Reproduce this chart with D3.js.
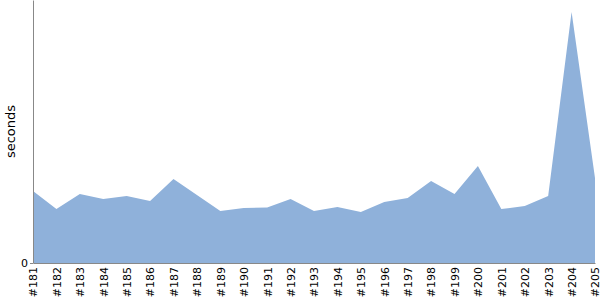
<!DOCTYPE html>
<html>
<head>
<meta charset="utf-8">
<script src="https://cdn.jsdelivr.net/npm/d3@7"></script>
<style>
  body { margin: 0; background: #fff; }
  text { font-family: "DejaVu Sans", sans-serif; }
</style>
</head>
<body>
<svg width="600" height="300"></svg>
<script>
// builds and their durations
const builds = ['#181','#182','#183','#184','#185','#186','#187','#188','#189','#190',
  '#191','#192','#193','#194','#195','#196','#197','#198','#199','#200',
  '#201','#202','#203','#204','#205'];
const seconds = [72, 54, 69, 64, 67, 62, 84, 68, 52, 55,
  55.5, 64, 52, 56, 51, 61, 65, 82, 69, 97,
  54, 57, 67, 251, 85];
const yTicks = [0];

const margin = {top: 0, right: 5, bottom: 37, left: 33};
const svg = d3.select('svg');
const w = 600 - margin.left - margin.right;
const h = 300 - margin.top - margin.bottom;

const g = svg.append('g').attr('transform', `translate(${margin.left},${margin.top})`);

const x = d3.scalePoint().domain(builds).range([0, w]);
const y = d3.scaleLinear().domain([0, 263]).range([h, 0]);

const data = builds.map((b, i) => ({b, v: seconds[i]}));

g.append('path')
  .datum(data)
  .attr('fill', '#8fb1da')
  .attr('d', d3.area().x(d => x(d.b)).y0(h).y1(d => y(d.v)));

// x axis
const xa = g.append('g').attr('transform', `translate(0,${h})`)
  .call(d3.axisBottom(x).tickSize(0).tickPadding(4));
xa.select('.domain').attr('stroke', '#888');
xa.selectAll('text')
  .attr('font-size', 11)
  .attr('transform', 'rotate(-90)')
  .attr('text-anchor', 'end')
  .attr('x', -4)
  .attr('y', 0)
  .attr('dy', '0.35em');

// y axis
const ya = g.append('g')
  .call(d3.axisLeft(y).tickValues(yTicks).tickSize(3).tickSizeOuter(0).tickPadding(2));
ya.select('.domain').attr('stroke', '#888');
ya.selectAll('line').attr('stroke', '#888');
ya.selectAll('text').attr('font-size', 11);

svg.append('text')
  .attr('transform', `translate(15,${h / 2}) rotate(-90)`)
  .attr('text-anchor', 'middle')
  .attr('font-size', 13)
  .text('seconds');
</script>
</body>
</html>
